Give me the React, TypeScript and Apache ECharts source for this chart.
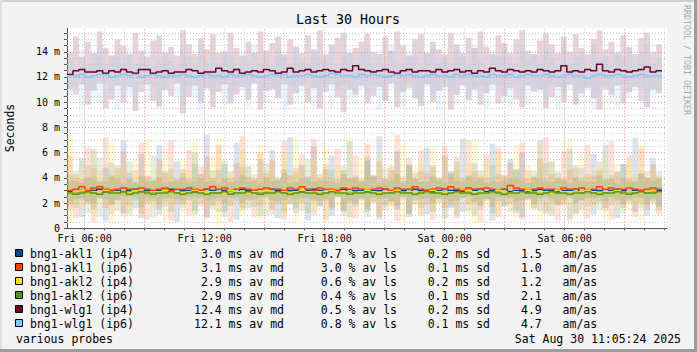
import React, { useEffect, useRef } from "react";
import * as echarts from "echarts";

// ---------- axis / time ----------
const X_MIN = 5.12; // hours since Fri 00:00 (Fri 05:07)
const X_MAX = 35.12; // Sat 11:07
const BIN_HOURS = 0.2975;
const Y_MAX = 15.86;
const xLabelHours = [6, 12, 18, 24, 30];
const yLabelValues = [0, 2, 4, 6, 8, 10, 12, 14];

// ---------- legend values ----------
const probeNames = ["bng1-akl1 (ip4)", "bng1-akl1 (ip6)", "bng1-akl2 (ip4)", "bng1-akl2 (ip6)", "bng1-wlg1 (ip4)", "bng1-wlg1 (ip6)"];
const probeColors = ["#004a87", "#ff4500", "#ffdd22", "#4d9a13", "#6e0026", "#80c8ff"];
const medianMs = [3.0, 3.1, 2.9, 2.9, 12.4, 12.1];
const lossPct = [0.7, 3.0, 0.6, 0.4, 0.5, 0.8];
const sdMs = [0.2, 0.1, 0.2, 0.1, 0.2, 0.1];
const amAs = [1.5, 1.0, 1.2, 2.1, 4.9, 4.7];

// ---------- medians (ms) ----------
const akl1Ip4Med = [2.9,2.9,3.0,2.8,3.0,3.1,2.9,3.0,3.0,2.9,3.0,3.1,2.9,3.0,2.9,3.0,3.0,3.1,2.9,3.0,3.0,2.9,3.0,3.1,3.0,2.9,3.0,3.0,2.9,3.1,3.0,3.0,2.9,3.0,3.1,3.0,2.9,3.0,3.0,2.9,3.0,3.1,3.0,2.9,3.0,3.0,3.1,2.9,3.0,3.0,2.9,3.0,3.0,3.1,2.9,3.0,3.0,2.9,3.1,3.0,3.0,2.9,3.0,3.1,3.0,3.0,2.9,3.0,3.0,3.1,2.9,3.0,3.0,3.1,2.9,3.0,3.0,2.9,3.0,3.1,3.0,3.0,2.9,3.0,3.0,3.1,2.9,3.0,3.0,3.0,2.9,3.0,3.1,3.0,2.9,3.0,3.0,2.9,3.0,3.0];
const akl1Ip6Med = [3.0,3.1,3.3,3.0,3.2,3.3,3.1,3.0,3.1,3.2,3.1,3.0,3.2,3.1,3.0,3.1,3.2,3.0,3.1,3.1,3.2,3.1,3.0,3.1,3.3,3.1,3.2,3.0,3.1,3.2,3.1,3.0,3.1,3.2,3.1,3.1,3.0,3.2,3.1,3.3,3.1,3.0,3.2,3.1,3.1,3.0,3.2,3.1,3.2,3.1,3.0,3.1,3.2,3.1,3.0,3.2,3.1,3.1,3.3,3.1,3.0,3.1,3.2,3.1,3.3,3.1,3.0,3.2,3.1,3.1,3.2,3.1,3.0,3.1,3.4,3.2,3.1,3.0,3.1,3.2,3.1,3.1,3.0,3.2,3.1,3.1,3.2,3.0,3.1,3.3,3.1,3.2,3.0,3.1,3.2,3.1,3.0,3.1,3.2,3.1];
const akl2Ip4Med = [2.8,2.9,3.0,2.8,2.9,2.9,3.0,2.8,2.9,2.9,2.8,3.0,2.9,2.8,2.9,2.9,3.0,2.8,2.9,2.8,2.9,3.0,2.9,2.8,2.9,2.9,2.8,3.0,2.9,2.9,2.8,2.9,2.9,3.0,2.8,2.9,2.9,2.8,2.9,3.0,2.9,2.8,2.9,2.9,3.0,2.8,2.9,2.9,2.8,2.9,3.0,2.9,2.8,2.9,2.9,3.0,2.8,2.9,2.9,2.8,2.9,3.0,2.9,2.8,2.9,2.9,2.8,3.0,2.9,2.9,2.8,2.9,3.0,2.9,2.8,2.9,2.9,3.0,2.8,2.9,2.9,2.8,3.0,2.9,2.9,2.8,2.9,3.0,2.9,2.8,2.9,2.9,3.0,2.8,2.9,2.9,2.8,2.9,3.0,2.9];
const akl2Ip6Med = [2.8,2.7,2.8,2.9,2.8,2.7,2.9,2.8,2.8,2.9,2.7,2.8,2.9,2.8,2.7,2.8,2.8,2.9,2.8,2.7,2.8,2.9,2.8,2.7,2.8,2.8,2.9,2.7,2.8,2.8,2.9,2.8,2.7,2.8,2.8,2.9,2.8,2.7,2.8,2.9,2.8,2.8,2.7,2.8,2.9,2.8,2.8,2.7,2.8,2.8,2.9,2.8,2.7,2.8,2.8,2.9,2.8,2.8,2.7,2.8,2.9,2.8,2.8,2.7,2.8,2.9,2.8,2.8,2.7,2.8,2.8,2.9,2.8,2.7,2.8,2.8,2.9,2.8,2.8,2.7,2.8,2.9,2.8,2.8,2.7,2.8,2.8,2.9,2.8,2.7,2.8,2.8,2.9,2.8,2.7,2.8,2.9,2.8,2.8,2.9];
const wlgIp4Med = [12.2,12.5,12.6,12.4,12.4,12.5,12.3,12.5,12.4,12.6,12.4,12.3,12.6,12.6,12.3,12.4,12.5,12.3,12.4,12.4,12.6,12.5,12.3,12.4,12.4,12.7,12.5,12.4,12.6,12.3,12.4,12.5,12.4,12.6,12.5,12.3,12.4,12.7,12.4,12.5,12.6,12.4,12.5,12.6,12.5,12.4,12.6,12.5,12.9,12.6,12.5,12.4,12.5,12.6,12.4,12.3,12.5,12.6,12.4,12.5,12.5,12.4,12.6,12.4,12.5,12.6,12.4,12.5,12.3,12.5,12.4,12.7,12.5,12.4,12.6,12.5,12.4,12.5,12.4,12.6,12.5,12.4,12.5,12.9,12.4,12.5,12.4,12.6,12.5,13.0,12.5,12.4,12.6,12.5,12.4,12.5,12.6,12.8,12.4,12.5];
const wlgIp6Med = [12.1,12.1,12.2,12.0,12.1,12.2,12.2,12.0,12.1,12.2,12.1,12.2,12.0,12.1,12.2,12.1,12.0,12.1,12.1,12.2,12.1,12.0,12.1,12.2,12.1,12.1,12.0,12.2,12.1,12.1,12.2,12.1,12.0,12.1,12.2,12.1,12.2,12.0,12.1,12.1,12.2,12.1,12.0,12.1,12.3,12.2,12.1,12.1,12.0,12.2,12.1,12.2,12.1,12.0,12.1,12.2,12.1,12.2,12.1,12.0,12.1,12.2,12.1,12.1,12.0,12.2,12.1,12.2,12.1,12.1,12.0,12.2,12.1,12.1,12.2,12.0,12.1,12.2,12.1,12.1,12.2,12.1,12.0,12.1,12.2,12.1,12.1,11.9,12.1,12.2,12.1,12.1,12.2,12.1,12.0,12.1,12.2,12.1,12.1,12.1];

// ---------- smoke ranges (ms) ----------
const akl1Ip4Lo = [1.8,2.3,0.9,2.1,1.5,2.4,0.6,1.9,2.2,1.2,2.5,1.6,0.8,2.0,2.3,1.1,1.7,2.4,0.5,1.9,2.2,1.4,2.5,0.9,1.8,2.1,1.3,2.4,0.7,2.0,1.6,2.3,1.0,2.5,1.5,0.8,2.2,1.9,1.2,2.4,0.6,2.1,1.7,2.3,1.0,2.5,1.4,0.9,2.0,2.2,1.3,2.4,0.7,1.8,2.1,1.5,2.5,0.9,1.9,2.3,1.1,2.0,2.4,0.8,1.6,2.2,1.3,2.5,1.0,1.8,2.3,0.6,2.1,1.7,2.4,1.2,0.9,2.2,1.9,1.4,2.5,1.0,1.8,2.3,0.7,2.0,1.5,2.4,1.1,2.1,1.6,2.5,0.8,1.9,2.2,1.3,2.4,1.0,2.0,1.7];
const akl1Ip4Hi = [4.2,3.8,5.6,4.0,6.3,3.7,4.8,5.2,3.9,7.0,4.4,3.6,5.9,4.1,3.8,6.6,4.5,3.7,5.3,4.0,3.9,6.0,4.3,7.4,3.8,4.6,5.1,3.7,6.8,4.2,4.9,3.8,5.5,4.0,6.2,3.9,4.4,7.2,3.7,5.0,4.1,6.5,3.8,4.7,5.8,3.9,4.3,6.9,4.0,3.8,5.4,4.2,7.3,3.9,4.6,6.1,3.8,5.0,4.4,3.7,6.4,4.1,3.9,5.7,4.5,3.8,7.1,4.2,5.2,3.9,4.0,6.7,4.3,3.8,5.5,4.6,6.0,3.9,4.1,7.0,3.8,5.3,4.4,3.9,6.3,4.0,4.8,3.7,5.9,4.2,6.6,3.9,4.5,5.1,3.8,7.2,4.3,4.0,5.6,3.9];
const akl1Ip6Lo = [1.4,0.8,2.2,1.9,0.5,2.4,1.6,1.1,2.3,0.9,1.8,2.5,1.2,0.7,2.1,1.5,2.4,0.6,1.9,2.2,1.0,2.5,1.7,0.8,2.3,1.3,2.0,0.5,2.4,1.6,2.2,0.9,1.8,2.5,1.1,2.1,0.7,1.9,2.3,1.4,2.4,1.0,2.2,0.6,1.7,2.5,1.3,2.0,0.8,2.3,1.5,2.1,0.9,2.4,1.8,0.6,2.2,1.2,2.5,1.0,1.9,0.7,2.3,1.6,2.1,0.8,2.4,1.4,2.0,0.5,2.2,1.7,0.9,2.5,1.3,2.1,0.7,2.3,1.5,2.4,1.1,2.0,0.6,1.8,2.4,1.2,2.2,0.8,1.9,2.5,1.4,0.7,2.1,1.6,2.3,0.9,2.0,1.5,2.4,1.1];
const akl1Ip6Hi = [5.8,4.3,3.9,6.4,4.8,3.8,7.2,4.1,5.0,6.1,3.9,4.6,6.8,4.2,3.8,5.5,4.4,7.0,3.9,4.7,6.2,3.8,4.9,5.7,4.0,6.6,3.9,4.5,5.2,7.3,4.1,3.9,6.0,4.4,5.4,3.8,6.9,4.2,4.8,5.9,3.9,7.1,4.3,5.1,3.8,6.3,4.6,4.0,5.8,3.9,6.7,4.2,5.3,3.8,4.9,7.4,4.1,5.6,3.9,6.2,4.4,5.0,3.8,6.5,4.3,5.7,3.9,7.0,4.5,4.1,5.9,3.8,6.4,4.2,5.2,3.9,6.8,4.6,4.0,5.5,7.2,4.3,3.9,6.1,4.7,5.0,3.8,6.6,4.2,5.3,3.9,6.9,4.4,4.0,5.8,3.8,6.3,4.5,5.1,4.1];
const akl2Ip4Lo = [0.3,2.0,1.5,2.4,1.0,2.2,1.7,0.4,2.3,1.8,1.2,2.5,0.9,2.0,1.6,2.3,0.6,1.9,2.4,1.3,2.1,0.8,2.4,1.5,1.9,0.2,2.2,1.7,2.5,1.0,1.8,2.3,0.7,2.0,1.4,2.4,1.1,2.2,0.5,1.9,2.5,1.3,2.1,0.8,2.3,1.6,2.0,0.4,2.4,1.2,1.9,2.2,0.9,2.5,1.5,2.1,0.6,2.3,1.7,1.0,2.4,1.4,2.0,0.7,2.2,1.8,2.5,1.1,0.3,2.1,1.6,2.4,1.0,2.2,1.9,0.8,2.3,1.5,2.0,0.6,2.5,1.3,2.1,1.8,0.5,2.4,1.1,2.2,1.7,2.0,0.9,2.3,1.5,2.5,1.2,2.0,0.7,2.2,1.8,2.4];
const akl2Ip4Hi = [7.4,4.0,5.2,3.8,6.1,4.4,3.9,6.8,4.2,5.0,3.8,5.6,4.3,7.0,3.9,4.7,6.3,4.1,3.8,5.4,4.5,6.9,3.9,4.8,5.8,7.3,4.0,4.4,3.8,6.2,4.9,3.9,6.6,4.2,5.3,3.8,5.9,4.1,7.1,4.6,3.9,5.5,4.3,6.4,3.8,5.0,4.4,7.2,3.9,5.7,4.2,3.8,6.0,4.0,5.1,4.5,6.7,3.9,4.8,5.4,3.8,6.3,4.1,5.8,3.9,4.6,3.8,5.2,7.0,4.3,5.6,3.9,6.1,4.0,4.4,6.5,3.8,5.0,4.2,6.8,3.9,5.3,4.5,4.0,7.1,3.8,5.7,4.1,4.6,4.9,6.2,3.9,5.1,3.8,5.5,4.3,6.6,3.9,4.7,4.0];
const akl2Ip6Lo = [2.1,1.6,2.4,1.2,2.0,0.9,2.3,1.8,1.4,2.5,1.0,2.2,1.7,2.4,0.8,1.9,2.1,1.3,2.3,1.6,2.5,1.1,2.0,2.2,1.5,2.4,0.9,1.8,2.1,1.4,2.3,1.7,2.5,1.0,2.2,1.9,1.3,2.4,1.6,2.0,1.2,2.3,1.8,2.1,1.5,2.5,1.0,2.2,1.7,2.4,0.9,2.0,2.3,1.4,2.1,1.8,2.5,1.1,2.2,1.6,2.4,1.3,2.0,2.3,1.7,1.0,2.4,1.9,2.1,1.5,2.3,1.2,2.5,1.8,2.0,1.4,2.2,2.4,1.6,2.1,1.3,2.3,1.9,2.0,2.5,1.1,2.2,1.7,2.4,1.5,2.1,1.8,2.3,1.2,2.0,2.4,1.6,1.9,2.2,1.4];
const akl2Ip6Hi = [3.8,4.5,3.6,5.0,3.9,5.6,3.7,4.2,4.8,3.6,5.3,3.8,4.1,3.7,5.8,4.0,3.6,4.7,3.8,4.4,3.6,5.1,3.9,3.7,4.6,3.6,5.4,4.0,3.8,4.9,3.7,4.3,3.6,5.2,3.8,4.1,4.7,3.6,4.4,3.9,5.5,3.7,4.0,3.8,4.6,3.6,5.0,3.9,4.2,3.7,5.7,4.1,3.6,4.8,3.8,4.3,3.6,5.1,3.9,4.5,3.7,4.9,4.0,3.6,4.4,5.3,3.7,4.1,3.8,4.6,3.6,5.0,3.7,4.2,3.9,4.7,3.8,3.6,4.5,3.9,5.2,3.7,4.0,3.8,3.6,4.8,3.9,4.3,3.7,4.6,3.8,4.2,3.6,5.1,3.9,3.7,4.4,4.0,3.8,4.5];
const wlgIp4Lo = [11.0,10.6,11.4,9.8,10.9,11.5,9.5,10.2,11.3,10.0,11.2,9.3,10.8,11.4,10.1,9.7,11.0,10.5,11.5,9.1,10.4,11.3,10.0,11.1,9.6,10.8,11.4,9.9,10.6,11.2,10.2,11.5,9.4,10.9,11.0,10.3,11.4,9.8,10.7,11.3,10.0,11.1,9.5,10.8,11.4,10.4,9.2,11.0,10.6,11.3,9.9,10.5,11.2,10.1,11.5,9.6,10.8,11.1,10.3,9.7,11.4,10.0,10.9,11.2,9.4,10.6,11.3,10.2,11.0,9.8,10.7,11.4,9.9,10.5,11.1,10.2,9.6,11.3,10.8,11.0,9.5,10.4,11.2,10.0,11.4,9.8,10.7,11.1,10.3,9.4,11.0,10.6,11.3,9.9,10.8,11.2,10.1,9.6,11.0,10.7];
const wlgIp4Hi = [14.0,15.2,13.6,14.8,13.9,15.6,14.3,13.7,15.0,14.5,13.8,15.5,14.1,13.6,14.9,15.3,13.9,14.4,13.7,15.7,14.6,13.8,15.1,14.2,15.4,13.9,14.0,15.5,14.3,13.7,14.8,13.9,15.6,14.1,14.7,15.2,13.8,15.0,14.4,13.9,15.3,14.2,15.7,13.8,14.6,15.1,15.5,13.9,14.3,14.8,15.4,14.0,13.8,15.2,14.1,15.6,14.5,13.7,15.0,15.4,13.9,14.8,14.2,13.8,15.5,14.6,13.9,15.1,14.3,15.6,14.4,13.8,15.3,14.7,13.9,15.0,15.7,14.1,13.8,14.9,15.5,14.6,13.9,15.2,14.0,15.4,14.3,13.8,15.0,15.7,14.2,14.8,13.9,15.3,14.4,13.8,15.1,15.5,14.0,14.6];
const wlgIp6Lo = [10.4,11.3,9.6,11.0,10.2,9.8,11.5,10.7,9.4,11.1,10.5,9.9,11.4,10.0,11.2,9.5,10.8,11.6,10.1,9.7,11.3,10.4,9.3,11.0,10.6,11.5,9.8,10.2,11.2,10.9,9.6,11.4,10.3,9.9,11.1,10.5,9.4,11.3,10.0,10.8,11.5,9.7,10.4,11.2,9.5,10.9,11.4,10.1,9.8,11.0,10.6,11.3,9.4,10.2,11.1,10.7,9.6,11.5,10.3,9.9,11.2,10.5,9.3,11.0,10.8,9.7,11.4,10.1,10.6,11.3,9.5,10.9,11.2,10.0,9.6,11.5,10.4,9.8,11.1,10.7,10.2,11.4,9.5,10.8,11.0,9.9,10.5,11.3,9.4,10.6,11.2,10.0,9.7,11.4,10.3,10.9,11.1,9.6,10.4,11.0];
const wlgIp6Hi = [13.5,12.9,14.2,13.1,13.8,14.5,12.8,13.6,14.0,13.2,14.4,13.0,13.7,14.6,12.9,13.4,14.1,13.3,12.8,14.3,13.6,12.9,14.5,13.2,13.9,13.0,14.2,13.7,12.8,14.0,13.4,14.6,13.1,13.8,12.9,14.3,13.5,13.0,14.4,13.2,12.9,14.1,13.6,13.3,14.5,12.8,13.7,14.2,13.0,13.9,14.3,13.1,13.8,12.9,14.6,13.4,13.0,14.1,13.6,12.8,13.9,14.4,13.2,13.5,12.9,14.2,13.7,13.0,14.5,13.3,12.8,14.0,13.6,14.3,13.1,12.9,14.6,13.4,13.8,13.0,14.2,13.5,12.9,14.4,13.2,13.7,14.0,12.8,14.5,13.3,13.6,12.9,14.1,13.4,14.3,13.0,13.8,14.6,13.1,13.5];

const medians = [akl1Ip4Med, akl1Ip6Med, akl2Ip4Med, akl2Ip6Med, wlgIp4Med, wlgIp6Med];
const smokeLo = [akl1Ip4Lo, akl1Ip6Lo, akl2Ip4Lo, akl2Ip6Lo, wlgIp4Lo, wlgIp6Lo];
const smokeHi = [akl1Ip4Hi, akl1Ip6Hi, akl2Ip4Hi, akl2Ip6Hi, wlgIp4Hi, wlgIp6Hi];

const FONT = '"DejaVu Sans Mono", monospace';
const GRID_GRAY = "#c8c8c8";
const GRID_RED = "#f09090";
const SMOKE_ALPHA = [0.15, 0.16, 0.18, 0.15, 0.17, 0.17];

function hexAlpha(hex: string, a: number) {
  const n = parseInt(hex.slice(1), 16);
  return `rgba(${(n >> 16) & 255},${(n >> 8) & 255},${n & 255},${a})`;
}

function buildOption() {
  const binStart = (i: number) => X_MIN + i * BIN_HOURS;

  const hours: number[] = [];
  for (let h = Math.ceil(X_MIN); h <= Math.floor(X_MAX); h++) hours.push(h);
  const halfSteps: number[] = [];
  for (let v = 0.5; v < Y_MAX; v += 0.5) halfSteps.push(v);

  const gridLines: any[] = [];
  hours.forEach((h) =>
    gridLines.push({ xAxis: h, lineStyle: { color: h % 3 === 0 ? GRID_RED : GRID_GRAY, type: [1, 2], width: 1 } })
  );
  halfSteps.forEach((v) =>
    gridLines.push({ yAxis: v, lineStyle: { color: v % 2 === 0 ? GRID_RED : GRID_GRAY, type: [1, 2], width: 1 } })
  );

  const smokeSeries = probeNames.map((name, k) => ({
    type: "custom",
    name: name + " smoke",
    z: 2,
    clip: true,
    silent: true,
    encode: { x: 0, y: [1, 2] },
    data: smokeLo[k].map((lo, i) => [binStart(i), lo, smokeHi[k][i]]),
    renderItem: (_p: any, api: any) => {
      const x0 = api.value(0);
      const a = api.coord([x0, api.value(2)]);
      const b = api.coord([x0 + BIN_HOURS, api.value(1)]);
      return {
        type: "rect",
        shape: { x: a[0], y: a[1], width: b[0] - a[0], height: b[1] - a[1] },
        style: { fill: hexAlpha(probeColors[k], SMOKE_ALPHA[k]) },
      };
    },
  }));

  const lineSeries = probeNames.map((name, k) => ({
    type: "line",
    name,
    z: 5,
    symbol: "none",
    silent: true,
    clip: true,
    lineStyle: { color: probeColors[k], width: 1.5 },
    data: medians[k].flatMap((v, i) => [
      [binStart(i), v],
      [binStart(i + 1), v],
    ]),
  }));

  const gridSeries = {
    type: "line",
    name: "grid",
    z: 3,
    symbol: "none",
    silent: true,
    data: [] as any[],
    markLine: { silent: true, symbol: "none", label: { show: false }, animation: false, data: gridLines },
    markPoint: {
      silent: true,
      animation: false,
      label: { show: false },
      data: [
        { coord: [X_MAX + 0.2, 0], symbol: "triangle", symbolSize: [7, 6], symbolRotate: -90, itemStyle: { color: "#a01010" } },
        { coord: [X_MIN, Y_MAX + 0.35], symbol: "triangle", symbolSize: [7, 6], symbolRotate: 0, itemStyle: { color: "#a01010" } },
      ],
    },
  };

  const legendGraphics: any[] = [];
  probeNames.forEach((name, i) => {
    const cy = 254 + i * 14;
    legendGraphics.push({
      type: "rect",
      shape: { x: 15.5, y: cy - 4.5, width: 7, height: 7 },
      style: { fill: probeColors[i], stroke: "#000", lineWidth: 1 },
    });
    const cols: [string, number, string][] = [
      [name, 30, "left"],
      [`${medianMs[i].toFixed(1)} ms av md`, 284, "right"],
      [`${lossPct[i].toFixed(1)} % av ls`, 397, "right"],
      [`${sdMs[i].toFixed(1)} ms sd`, 490, "right"],
      [`${amAs[i].toFixed(1)}   am/as`, 521, "left"],
    ];
    cols.forEach(([t, x, al]) =>
      legendGraphics.push({
        type: "text",
        x,
        y: cy,
        style: { text: t, fill: "#000", fontSize: 11.5, fontFamily: FONT, textAlign: al, textVerticalAlign: "middle", align: al, verticalAlign: "middle" },
      })
    );
  });

  return {
    animation: false,
    backgroundColor: "#f3f3f3",
    textStyle: { fontFamily: FONT },
    grid: { left: 67, top: 28.3, width: 600, height: 200, show: true, backgroundColor: "#ffffff", borderWidth: 0 },
    xAxis: {
      type: "value",
      min: X_MIN,
      max: X_MAX,
      splitLine: { show: false },
      axisLine: { show: true, onZero: false, lineStyle: { color: "#555", width: 1 } },
      axisTick: { show: true, customValues: hours, length: 2, inside: false, lineStyle: { color: "#555" } },
      axisLabel: {
        customValues: xLabelHours,
        margin: 5,
        fontSize: 10,
        fontFamily: FONT,
        color: "#000",
        formatter: (v: number) => {
          const day = v < 24 ? "Fri" : "Sat";
          const h = Math.round(v) % 24;
          return `${day} ${String(h).padStart(2, "0")}:00`;
        },
      },
    },
    yAxis: {
      type: "value",
      min: 0,
      max: Y_MAX,
      splitLine: { show: false },
      axisLine: { show: true, lineStyle: { color: "#555", width: 1 } },
      axisTick: { show: true, customValues: [0, ...halfSteps], length: 3, lineStyle: { color: "#555" } },
      axisLabel: {
        customValues: yLabelValues,
        margin: 7,
        fontSize: 10,
        fontFamily: FONT,
        color: "#000",
        formatter: (v: number) => (v === 0 ? "0" : `${v} m`),
      },
    },
    graphic: [
      { type: "rect", shape: { x: 0, y: 0, width: 697, height: 2 }, style: { fill: "#cfcfcf" }, silent: true },
      { type: "rect", shape: { x: 0, y: 0, width: 2, height: 352 }, style: { fill: "#e0e0e0" }, silent: true },
      { type: "rect", shape: { x: 0, y: 349, width: 697, height: 3 }, style: { fill: "#9c9c9c" }, silent: true },
      { type: "rect", shape: { x: 694, y: 0, width: 3, height: 352 }, style: { fill: "#9c9c9c" }, silent: true },
      {
        type: "text",
        x: 348,
        y: 19,
        style: { text: "Last 30 Hours", fill: "#000", fontSize: 13.3, fontFamily: FONT, textAlign: "center", textVerticalAlign: "middle", align: "center", verticalAlign: "middle" },
      },
      {
        type: "text",
        x: 10,
        y: 128,
        rotation: Math.PI / 2,
        style: { text: "Seconds", fill: "#000", fontSize: 11.5, fontFamily: FONT, textAlign: "center", textVerticalAlign: "middle", align: "center", verticalAlign: "middle" },
      },
      {
        type: "text",
        x: 687,
        y: 60,
        rotation: -Math.PI / 2,
        style: { text: "RRDTOOL / TOBI OETIKER", fill: "#a8a8a8", fontSize: 8.3, fontFamily: FONT, textAlign: "center", textVerticalAlign: "middle", align: "center", verticalAlign: "middle" },
      },
      ...legendGraphics,
      {
        type: "text",
        x: 16,
        y: 338.5,
        style: { text: "various probes", fill: "#000", fontSize: 11.5, fontFamily: FONT, textAlign: "left", textVerticalAlign: "middle", align: "left", verticalAlign: "middle" },
      },
      {
        type: "text",
        x: 681,
        y: 338.5,
        style: { text: "Sat Aug 30 11:05:24 2025", fill: "#000", fontSize: 11.5, fontFamily: FONT, textAlign: "right", textVerticalAlign: "middle", align: "right", verticalAlign: "middle" },
      },
    ],
    series: [gridSeries, ...smokeSeries, ...lineSeries],
  };
}

export default function App() {
  const ref = useRef<HTMLDivElement>(null);
  useEffect(() => {
    document.body.style.margin = "0";
    const chart = echarts.init(ref.current!, null, { renderer: "svg", width: 697, height: 352 });
    chart.setOption(buildOption() as any);
    return () => chart.dispose();
  }, []);
  return <div ref={ref} style={{ width: 697, height: 352 }} />;
}
